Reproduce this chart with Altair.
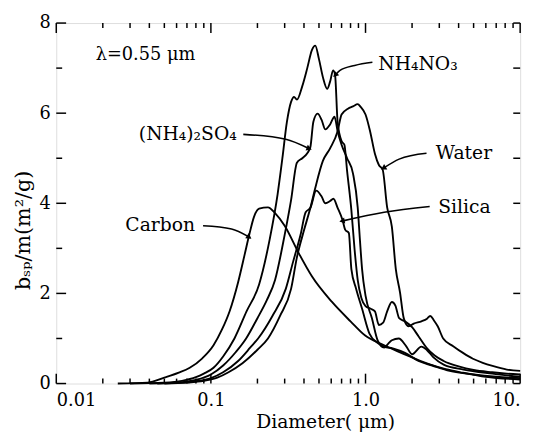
import altair as alt
import pandas as pd

# ---------------- data ----------------
carbon_d = [0.025, 0.039, 0.05, 0.062, 0.073, 0.088, 0.104, 0.118, 0.132, 0.15, 0.165, 0.177, 0.19, 0.205,
            0.234, 0.26, 0.3, 0.369, 0.45, 0.607, 0.8, 0.99, 1.3, 1.6, 2.0, 2.63, 3.3, 4.27, 6.0, 10]
carbon_v = [0, 0.02, 0.13, 0.24, 0.35, 0.56, 0.85, 1.2, 1.6, 2.25, 2.85, 3.3, 3.7, 3.88,
            3.91, 3.78, 3.5, 2.9, 2.38, 1.81, 1.38, 1.07, 0.86, 0.72, 0.58, 0.42, 0.32, 0.24, 0.15, 0.09]

nh4no3_d = [0.03, 0.05, 0.065, 0.08, 0.09, 0.104, 0.12, 0.142, 0.17, 0.205, 0.24, 0.27, 0.29, 0.31, 0.33,
            0.345, 0.36, 0.39, 0.42, 0.45, 0.473, 0.5, 0.53, 0.565, 0.59, 0.617, 0.635, 0.66, 0.7, 0.73,
            0.76, 0.81, 0.85, 0.89, 0.94, 1.0, 1.08, 1.15, 1.22, 1.3, 1.38, 1.48, 1.56, 1.65, 1.8, 2.0,
            2.2, 2.5, 2.8, 3.2, 4.0, 5.0, 6.6, 8.2, 10]
nh4no3_v = [0, 0.02, 0.06, 0.14, 0.22, 0.35, 0.6, 1.0, 1.6, 2.2, 3.2, 4.2, 5.0, 5.8, 6.25,
            6.36, 6.3, 6.6, 7.0, 7.4, 7.5, 7.2, 6.8, 6.54, 6.7, 6.95, 6.86, 5.8, 5.38, 5.3,
            4.72, 3.85, 2.97, 2.3, 1.9, 1.72, 1.66, 1.6, 1.3, 1.35, 1.6, 1.81, 1.73, 1.45, 1.38, 1.25,
            1.05, 0.78, 0.62, 0.5, 0.38, 0.3, 0.25, 0.22, 0.2]

so4_d = [0.04, 0.06, 0.08, 0.1, 0.12, 0.145, 0.169, 0.2, 0.23, 0.26, 0.3, 0.33, 0.36, 0.39,
         0.42, 0.44, 0.46, 0.49, 0.52, 0.55, 0.59, 0.63, 0.66, 0.7, 0.76, 0.83, 0.89, 0.92, 0.95, 1.0,
         1.1, 1.2, 1.32, 1.4, 1.48, 1.64, 1.83, 2.0, 2.3, 2.5, 2.75, 3.2, 4.3, 6.6, 10]
so4_v = [0, 0.02, 0.08, 0.2, 0.4, 0.7, 1.0, 1.45, 1.85, 2.3, 3.3, 4.07, 4.9, 5.0,
         5.11, 5.25, 5.81, 5.99, 5.85, 5.64, 5.75, 5.92, 5.6, 5.3, 5.0, 4.66, 3.91, 3.19, 2.54, 1.95,
         1.45, 0.95, 0.8, 0.88, 0.96, 1.0, 0.83, 0.65, 0.82, 0.74, 0.58, 0.42, 0.31, 0.22, 0.15]

silica_d = [0.045, 0.065, 0.08, 0.1, 0.12, 0.15, 0.18, 0.202, 0.25, 0.305, 0.34, 0.38, 0.41,
            0.44, 0.48, 0.52, 0.55, 0.59, 0.62, 0.66, 0.71, 0.74, 0.78, 0.81, 0.87, 0.95, 1.06, 1.2,
            1.32, 1.5, 1.8, 2.2, 2.7, 3.5, 5.0, 7.0, 10]
silica_v = [0, 0.02, 0.05, 0.12, 0.25, 0.5, 0.8, 1.0, 1.5, 2.1, 2.7, 3.3, 3.8,
            3.9, 4.28, 4.15, 4.0, 4.05, 4.1, 3.9, 3.63, 3.41, 3.34, 2.54, 2.1, 1.66, 1.11, 0.9,
            0.82, 0.78, 0.68, 0.5, 0.4, 0.28, 0.2, 0.15, 0.12]

water_d = [0.05, 0.07, 0.09, 0.11, 0.13, 0.16, 0.2, 0.234, 0.28, 0.33, 0.36, 0.4, 0.44, 0.47,
           0.53, 0.59, 0.66, 0.7, 0.77, 0.83, 0.89, 0.93, 1.0, 1.07, 1.15, 1.22, 1.29, 1.38, 1.48, 1.57,
           1.67, 1.77, 1.9, 2.05, 2.3, 2.5, 2.62, 2.77, 2.93, 3.18, 3.69, 4.27, 4.95, 5.73, 6.63, 8.2, 10]
water_v = [0, 0.02, 0.06, 0.13, 0.25, 0.45, 0.75, 1.0, 1.5, 2.1, 2.8, 3.4, 3.9, 4.3,
           4.94, 5.22, 5.6, 5.97, 6.1, 6.15, 6.2, 6.14, 5.97, 5.6, 5.1, 4.85, 4.75, 3.91, 3.48, 2.54,
           2.03, 1.44, 1.27, 1.33, 1.38, 1.44, 1.5, 1.4, 1.27, 1.0, 0.83, 0.68, 0.55, 0.46, 0.39, 0.31, 0.28]

series = {
    "Carbon": (carbon_d, carbon_v),
    "NH4NO3": (nh4no3_d, nh4no3_v),
    "(NH4)2SO4": (so4_d, so4_v),
    "Silica": (silica_d, silica_v),
    "Water": (water_d, water_v),
}

# annotation labels
label_text = ["NH₄NO₃", "Water", "Silica", "(NH₄)₂SO₄", "Carbon"]
label_d = [1.21, 2.85, 2.95, 0.147, 0.079]
label_v = [7.08, 5.11, 3.91, 5.53, 3.52]
label_align = ["left", "left", "left", "right", "right"]

# arrows: (name, diameters, values); last point is the tip
arrow_names = ["NH4NO3", "(NH4)2SO4", "Water", "Silica", "Carbon"]
arrow_d = [[1.108, 0.851, 0.684, 0.642],
           [0.162, 0.305, 0.427],
           [2.48, 1.65, 1.32],
           [2.6, 1.32, 0.714],
           [0.089, 0.136, 0.175]]
arrow_v = [[7.13, 7.06, 6.95, 6.86],
           [5.53, 5.42, 5.22],
           [5.11, 4.98, 4.79],
           [3.93, 3.80, 3.61],
           [3.50, 3.43, 3.26]]
arrow_angle = [225, 111, 239, 260, 125]

x_major = [0.01, 0.1, 1, 10]
x_minor = [m * 10 ** e for e in (-2, -1, 0) for m in range(2, 10)]
y_major = [0, 2, 4, 6, 8]
y_all = [0, 1, 2, 3, 4, 5, 6, 7, 8]
y_minor = [1, 3, 5, 7]

# ---------------- tables ----------------
rows = []
for name, (ds, vs) in series.items():
    for i, (d, v) in enumerate(zip(ds, vs)):
        rows.append({"series": name, "D": d, "v": v, "i": i})
curves = pd.DataFrame(rows)

arows = []
for name, ds, vs in zip(arrow_names, arrow_d, arrow_v):
    for i, (d, v) in enumerate(zip(ds, vs)):
        arows.append({"arrow": name, "D": d, "v": v, "i": i})
arrows = pd.DataFrame(arows)
tips = pd.DataFrame({"arrow": arrow_names, "D": [a[-1] for a in arrow_d],
                     "v": [a[-1] for a in arrow_v], "ang": arrow_angle})
labels = pd.DataFrame({"t": label_text, "D": label_d, "v": label_v, "al": label_align})

FONT = "DejaVu Serif"
W, H = 471, 366

xs = alt.Scale(type="log", domain=[0.01, 10])
ys = alt.Scale(domain=[0, 8])

X = alt.X("D:Q", scale=xs, axis=alt.Axis(
    values=x_major, ticks=False, domain=False, grid=False,
    labelExpr="datum.value == 1 ? '1.0' : datum.value == 10 ? '10.' : datum.label",
    labelFont=FONT, labelFontSize=18, labelColor="black", labelPadding=8,
    title="Diameter( μm)", titleFont=FONT, titleFontSize=19, titleFontWeight="normal",
    titleColor="black", titlePadding=4, titleX=273, titleAlign="center", labelOverlap=False))
Y = alt.Y("v:Q", scale=ys, axis=alt.Axis(
    values=y_major, ticks=False, domain=False, grid=False,
    labelFont=FONT, labelFontSize=18, labelColor="black", labelPadding=6,
    title="bₛₚ/m(m²/g)", titleFont=FONT, titleFontSize=21, titleFontWeight="normal",
    titleColor="black", titlePadding=6, titleY=210, titleAlign="center"))

lines = alt.Chart(curves).mark_line(color="black", strokeWidth=1.9, interpolate="monotone").encode(
    x=X, y=Y, detail="series:N", order="i:Q")

arrow_lines = alt.Chart(arrows).mark_line(color="black", strokeWidth=1.6, interpolate="monotone").encode(
    x=alt.X("D:Q", scale=xs), y=alt.Y("v:Q", scale=ys), detail="arrow:N", order="i:Q")
arrow_heads = alt.Chart(tips).mark_point(shape="triangle", filled=True, color="black", size=40, opacity=1).encode(
    x=alt.X("D:Q", scale=xs), y=alt.Y("v:Q", scale=ys), angle=alt.Angle("ang:Q", scale=None))

lab_left = alt.Chart(labels[labels.al == "left"]).mark_text(
    align="left", baseline="middle", font=FONT, fontSize=19, color="black").encode(
    x=alt.X("D:Q", scale=xs), y=alt.Y("v:Q", scale=ys), text="t:N")
lab_right = alt.Chart(labels[labels.al == "right"]).mark_text(
    align="right", baseline="middle", font=FONT, fontSize=19, color="black").encode(
    x=alt.X("D:Q", scale=xs), y=alt.Y("v:Q", scale=ys), text="t:N")
lam = alt.Chart(pd.DataFrame({"t": ["λ=0.55 μm"], "D": [0.018], "v": [7.28]})).mark_text(
    align="left", baseline="middle", font=FONT, fontSize=18, color="black").encode(
    x=alt.X("D:Q", scale=xs), y=alt.Y("v:Q", scale=ys), text="t:N")

# inward tick marks on all four sides
def xticks(vals, length):
    df = pd.DataFrame({"D": vals})
    b = alt.Chart(df).mark_rule(color="black", strokeWidth=1.5).encode(
        x=alt.X("D:Q", scale=xs), y=alt.value(H), y2=alt.value(H - length))
    t = alt.Chart(df).mark_rule(color="black", strokeWidth=1.5).encode(
        x=alt.X("D:Q", scale=xs), y=alt.value(0), y2=alt.value(length))
    return b + t

def yticks_left(vals, length):
    df = pd.DataFrame({"v": vals})
    return alt.Chart(df).mark_rule(color="black", strokeWidth=1.5).encode(
        y=alt.Y("v:Q", scale=ys), x=alt.value(0), x2=alt.value(length))

def yticks_right(vals, length):
    df = pd.DataFrame({"v": vals})
    return alt.Chart(df).mark_rule(color="black", strokeWidth=1.5).encode(
        y=alt.Y("v:Q", scale=ys), x=alt.value(W), x2=alt.value(W - length))

chart = alt.layer(
    lines, arrow_lines, arrow_heads, lab_left, lab_right, lam,
    xticks(x_major, 10), xticks(x_minor, 5),
    yticks_left(y_major, 10), yticks_left(y_minor, 6),
    yticks_right(y_all, 7),
).properties(
    width=W, height=H,
    autosize=alt.AutoSizeParams(type="none"),
    padding={"left": 49, "top": 12, "right": 10, "bottom": 51},
).configure_view(stroke="black", strokeWidth=2).configure(background="white")

chart.save("out.html", embed_options={"renderer": "svg", "actions": False})
